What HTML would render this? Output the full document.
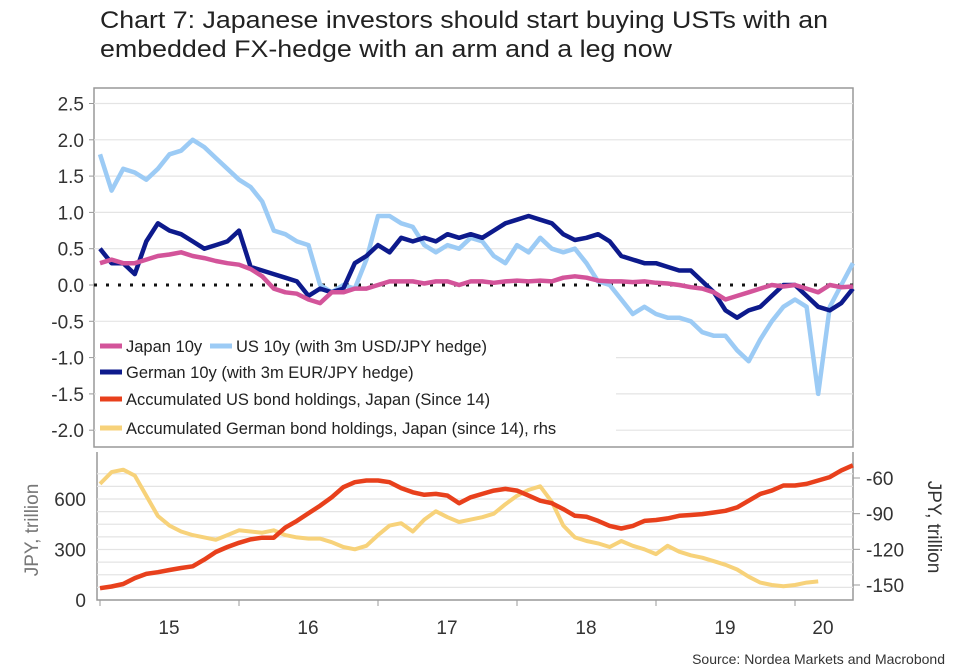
<!DOCTYPE html>
<html><head><meta charset="utf-8"><style>
body{margin:0;background:#fff;}
svg{display:block;font-family:"Liberation Sans",sans-serif;}
</style></head><body>
<svg id="c" width="969" height="671" viewBox="0 0 969 671">
<text x="100" y="28" font-size="24" fill="#222" textLength="728" lengthAdjust="spacingAndGlyphs">Chart 7: Japanese investors should start buying USTs with an</text>
<text x="100" y="57" font-size="24" fill="#222" textLength="572" lengthAdjust="spacingAndGlyphs">embedded FX-hedge with an arm and a leg now</text>
<g id="topPanel"></g>
<g id="botPanel"></g>
<text x="945" y="664" font-size="14" fill="#333" text-anchor="end">Source: Nordea Markets and Macrobond</text>
</svg>
<script>
const startYear = 2015.0;
const monthStep = 1/12;
const yearLabels = ["15","16","17","18","19","20"];
const topTicks = [2.5,2.0,1.5,1.0,0.5,0.0,-0.5,-1.0,-1.5,-2.0];
const leftTicks = [0,300,600];
const rightTicks = [-60,-90,-120,-150];
const japan10y = [0.3,0.35,0.3,0.3,0.35,0.4,0.42,0.45,0.4,0.37,0.33,0.3,0.28,0.22,0.12,-0.05,-0.1,-0.12,-0.2,-0.25,-0.1,-0.1,-0.05,-0.05,0.0,0.05,0.05,0.05,0.02,0.05,0.05,0.0,0.05,0.05,0.03,0.05,0.06,0.05,0.06,0.05,0.1,0.12,0.1,0.06,0.05,0.05,0.04,0.05,0.03,0.02,0.0,-0.03,-0.05,-0.1,-0.2,-0.15,-0.1,-0.05,0.0,-0.02,0.0,-0.05,-0.1,0.0,-0.03,-0.02];
const us10yHedged = [1.8,1.3,1.6,1.55,1.45,1.6,1.8,1.85,2.0,1.9,1.75,1.6,1.45,1.35,1.15,0.75,0.7,0.6,0.55,0.0,-0.1,0.0,-0.05,0.35,0.95,0.95,0.85,0.8,0.55,0.45,0.55,0.5,0.65,0.6,0.4,0.3,0.55,0.45,0.65,0.5,0.45,0.5,0.3,0.05,0.0,-0.2,-0.4,-0.3,-0.4,-0.45,-0.45,-0.5,-0.65,-0.7,-0.7,-0.9,-1.05,-0.75,-0.5,-0.3,-0.2,-0.3,-1.5,-0.3,0.0,0.3];
const german10yHedged = [0.5,0.3,0.3,0.15,0.6,0.85,0.75,0.7,0.6,0.5,0.55,0.6,0.75,0.25,0.2,0.15,0.1,0.05,-0.15,-0.05,-0.1,-0.05,0.3,0.4,0.55,0.45,0.65,0.6,0.65,0.6,0.7,0.65,0.7,0.65,0.75,0.85,0.9,0.95,0.9,0.85,0.7,0.62,0.65,0.7,0.6,0.4,0.35,0.3,0.3,0.25,0.2,0.2,0.05,-0.1,-0.35,-0.45,-0.35,-0.3,-0.15,0.0,0.0,-0.15,-0.3,-0.35,-0.25,-0.05];
const usHoldings = [70,80,95,130,155,165,178,190,200,240,285,315,340,360,370,370,430,470,515,560,610,670,700,710,710,700,665,640,625,630,620,575,610,630,650,660,650,620,590,575,540,500,495,470,440,425,440,470,475,485,500,505,510,520,530,550,590,630,650,680,680,690,710,730,770,800];
const germanHoldings = [-65,-55,-53,-58,-75,-92,-100,-105,-108,-110,-112,-108,-104,-105,-106,-104,-108,-110,-111,-111,-114,-118,-120,-117,-108,-100,-98,-105,-95,-88,-93,-97,-95,-93,-90,-82,-75,-70,-67,-80,-100,-110,-113,-115,-118,-113,-117,-120,-124,-117,-122,-125,-127,-130,-133,-137,-143,-148,-150,-151,-150,-148,-147];

const NS="http://www.w3.org/2000/svg";
function mk(tag,attrs,parent){const e=document.createElementNS(NS,tag);for(const k in attrs)e.setAttribute(k,attrs[k]);parent.appendChild(e);return e;}
const xT = t => 100 + (t-2015)*139;
const yTop = v => 285 - v*72.6;
const yLeft = v => 600 - v*(101/600);
const yRight = v => 478 + (-60 - v)*(107/90);
const tp=document.getElementById('topPanel'), bp=document.getElementById('botPanel');

let r=mk('rect',{x:94,y:88,width:759,height:359,fill:'none',stroke:'#999','stroke-width':1.5},tp);


topTicks.forEach(v=>{
  const y=yTop(v);
  if(v!==0){let g=mk('line',{x1:94,x2:853,y1:y,y2:y,stroke:'#e4e4e4','stroke-width':1.2},tp);
  
  }
  let tk=mk('line',{x1:89,x2:94,y1:y,y2:y,stroke:'#999'},tp);
  
  
  let t=mk('text',{x:84,y:y+7,'font-size':19,fill:'#333','text-anchor':'end'},tp);
  t.textContent=v.toFixed(1);
  
  
});
let z=mk('line',{x1:94,x2:853,y1:yTop(0),y2:yTop(0),stroke:'#111','stroke-width':3,'stroke-dasharray':'3 9'},tp);



function series(arr,yf,color,w,parent,name){
  const d=arr.map((v,i)=>(i?'L':'M')+xT(startYear+i*monthStep).toFixed(1)+','+yf(v).toFixed(1)).join(' ');
  const p=mk('path',{d:d,fill:'none',stroke:color,'stroke-width':w,'stroke-linejoin':'round'},parent);
  
  
}
series(us10yHedged,yTop,'#9ccbf5',4.5,tp,'us-10y-hedged-line');
series(german10yHedged,yTop,'#0d1a8c',4.5,tp,'german-10y-hedged-line');
series(japan10y,yTop,'#d3549a',4.5,tp,'japan-10y-line');

const lg=mk('g',{},tp);


mk('rect',{x:96,y:332,width:520,height:112,fill:'#fff'},lg);
const leg=[[100,346,'#d3549a','Japan 10y'],[210,346,'#9ccbf5','US 10y (with 3m USD/JPY hedge)'],[100,372,'#0d1a8c','German 10y (with 3m EUR/JPY hedge)'],[100,399,'#e8401c','Accumulated US bond holdings, Japan (Since 14)'],[100,428,'#f7d27a','Accumulated German bond holdings, Japan (since 14), rhs']];
leg.forEach(l=>{
  let s=mk('line',{x1:l[0],x2:l[0]+22,y1:l[1],y2:l[1],stroke:l[2],'stroke-width':5},lg);
  
  
  let t=mk('text',{x:l[0]+26,y:l[1]+6,'font-size':16.5,fill:'#222'},lg);
  t.textContent=l[3];
  
  
});

r=mk('path',{d:'M97,452 L97,600 L853,600 L853,452',fill:'none',stroke:'#999','stroke-width':1.5},bp);


[75,150,225,300,375,450,525,600,675,750].forEach(v=>{
  const y=yLeft(v);
  let g=mk('line',{x1:97,x2:853,y1:y,y2:y,stroke:'#e4e4e4','stroke-width':1.2},bp);
  
  
});
leftTicks.forEach(v=>{
  let t=mk('text',{x:86,y:yLeft(v)+7,'font-size':19,fill:'#333','text-anchor':'end'},bp);
  t.textContent=v;
  
  
});
rightTicks.forEach(v=>{
  let tk=mk('line',{x1:853,x2:860,y1:yRight(v),y2:yRight(v),stroke:'#999'},bp);
  
  
  let t=mk('text',{x:866,y:yRight(v)+7,'font-size':19,fill:'#333'},bp);
  t.textContent=v;
  
  
});
yearLabels.forEach((l,i)=>{
  const x0=xT(2015+i);
  let tk=mk('line',{x1:x0,x2:x0,y1:600,y2:606,stroke:'#999'},bp);
  
  
  const xm = i<5 ? x0+69 : x0+28;
  let t=mk('text',{x:xm,y:634,'font-size':19,fill:'#333','text-anchor':'middle'},bp);
  t.textContent=l;
  
  
});
let yl=mk('text',{x:0,y:0,'font-size':19,fill:'#777','text-anchor':'middle',transform:'translate(38,530) rotate(-90)'},bp);
yl.textContent='JPY, trillion';


let yr=mk('text',{x:0,y:0,'font-size':19,fill:'#333','text-anchor':'middle',transform:'translate(928,527) rotate(90)'},bp);
yr.textContent='JPY, trillion';


series(germanHoldings,yRight,'#f7d27a',4,bp,'german-holdings-line');
series(usHoldings,yLeft,'#e8401c',4.5,bp,'us-holdings-line');
</script>
</body></html>
